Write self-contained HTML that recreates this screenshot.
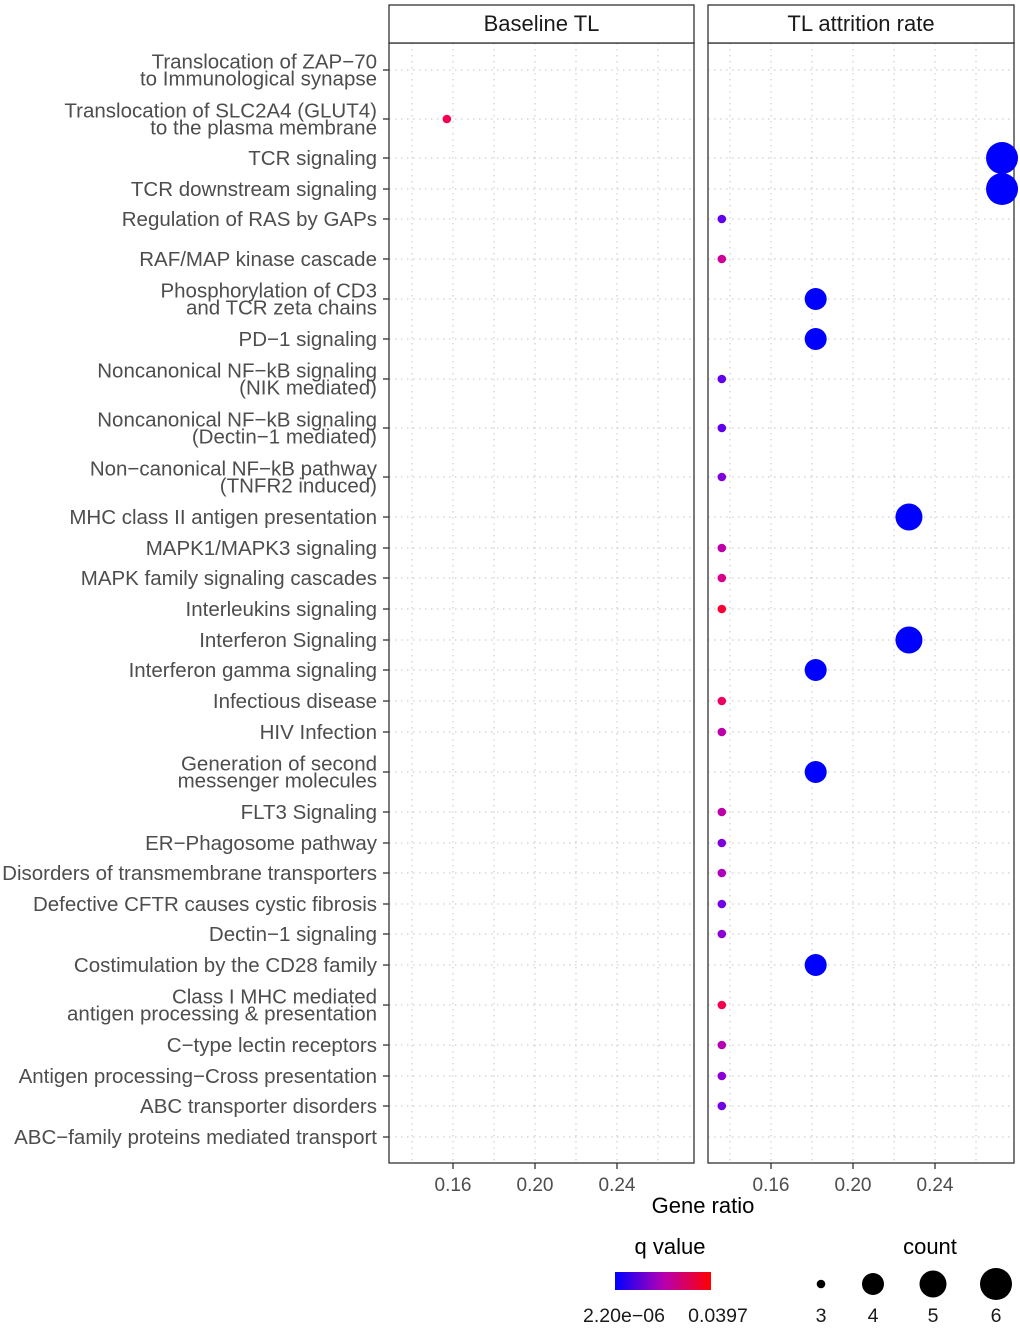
<!DOCTYPE html>
<html><head><meta charset="utf-8"><style>
body{margin:0;background:#fff;}
svg{display:block;font-family:"Liberation Sans",sans-serif;}
</style></head><body>
<svg id="chart" width="1020" height="1328"></svg>
<script>
const categories = ["Translocation of ZAP\u221270|to Immunological synapse","Translocation of SLC2A4 (GLUT4)|to the plasma membrane","TCR signaling","TCR downstream signaling","Regulation of RAS by GAPs","RAF/MAP kinase cascade","Phosphorylation of CD3|and TCR zeta chains","PD\u22121 signaling","Noncanonical NF\u2212kB signaling|(NIK mediated)","Noncanonical NF\u2212kB signaling|(Dectin\u22121 mediated)","Non\u2212canonical NF\u2212kB pathway|(TNFR2 induced)","MHC class II antigen presentation","MAPK1/MAPK3 signaling","MAPK family signaling cascades","Interleukins signaling","Interferon Signaling","Interferon gamma signaling","Infectious disease","HIV Infection","Generation of second|messenger molecules","FLT3 Signaling","ER\u2212Phagosome pathway","Disorders of transmembrane transporters","Defective CFTR causes cystic fibrosis","Dectin\u22121 signaling","Costimulation by the CD28 family","Class I MHC mediated|antigen processing & presentation","C\u2212type lectin receptors","Antigen processing\u2212Cross presentation","ABC transporter disorders","ABC\u2212family proteins mediated transport"];
// Baseline TL panel
const baseCats = [1];
const baseRatio = [0.157];
const baseCount = [3];
const baseQ = [0.036];
// TL attrition rate panel
const attrCats = [2,3,4,5,6,7,8,9,10,11,12,13,14,15,16,17,18,19,20,21,22,23,24,25,26,27,28,29];
const attrRatio = [0.2727,0.2727,0.136,0.136,0.1818,0.1818,0.136,0.136,0.136,0.2273,0.136,0.136,0.136,0.2273,0.1818,0.136,0.136,0.1818,0.136,0.136,0.136,0.136,0.136,0.1818,0.136,0.136,0.136,0.136];
const attrCount = [6,6,3,3,4,4,3,3,3,5,3,3,3,5,4,3,3,4,3,3,3,3,3,4,3,3,3,3];
const attrQ = [0,0,0.006,0.026,0,0,0.006,0.006,0.01,0,0.022,0.028,0.038,0,0,0.034,0.022,0,0.022,0.01,0.018,0.008,0.012,0,0.036,0.02,0.012,0.008];
const xTicks = [0.16,0.20,0.24];
const xMinor = [0.14,0.18,0.22,0.26];
const qMax = 0.0397;
const countLegend = [3,4,5,6];

// layout
const rowY = [70,119,158,189,219,259,299,339,379,428,477,517,548,578,609,640,670,701,732,772,812,843,873,904,934,965,1005,1045,1076,1106,1137];
const panels = [{x0:389,x1:694,off:64,title:"Baseline TL"},{x0:708,x1:1014,off:63,title:"TL attrition rate"}];
const pTop=43, pBot=1163;
const NS="http://www.w3.org/2000/svg";
const svg=document.getElementById('chart');
function el(t,a,p){const e=document.createElementNS(NS,t);for(const k in a)e.setAttribute(k,a[k]);(p||svg).appendChild(e);return e;}
function xScale(p,v){return p.x0+p.off+(v-0.16)*2050;}
function rScale(c){return {3:4.3,4:11,5:13.5,6:16}[c]||Math.sqrt(c)*6;}
function col(q){const t=Math.min(1,q/qMax);return `rgb(${Math.round(255*Math.sqrt(t))},0,${Math.round(255*Math.sqrt(1-t))})`;}

panels.forEach((p,pi)=>{
  const g=el('g',{});
  
  
  xMinor.concat(xTicks).forEach(v=>{const x=xScale(p,v);el('line',{x1:x,x2:x,y1:pTop,y2:pBot,stroke:'#cfcfcf','stroke-width':1.2,'stroke-dasharray':'1.5 4.5'},g);});
  rowY.forEach(y=>el('line',{x1:p.x0,x2:p.x1,y1:y,y2:y,stroke:'#cfcfcf','stroke-width':1.2,'stroke-dasharray':'1.5 4.5'},g));
  el('rect',{x:p.x0,y:pTop,width:p.x1-p.x0,height:pBot-pTop,fill:'none',stroke:'#333','stroke-width':1.3},g);
  const s=el('rect',{x:p.x0,y:5,width:p.x1-p.x0,height:38,fill:'#fff',stroke:'#333','stroke-width':1.3},g);
  
  
  const st=el('text',{x:(p.x0+p.x1)/2,y:31,'text-anchor':'middle','font-size':22,fill:'#1a1a1a'},g);st.textContent=p.title;
  
  
  xTicks.forEach(v=>{const x=xScale(p,v);el('line',{x1:x,x2:x,y1:pBot,y2:pBot+6,stroke:'#333','stroke-width':1.3},g);
    const t=el('text',{x:x,y:pBot+28,'text-anchor':'middle','font-size':19,fill:'#4d4d4d'},g);t.textContent=v.toFixed(2);
    
    });
});
categories.forEach((c,i)=>{
  const y=rowY[i];
  el('line',{x1:383,x2:389,y1:y,y2:y,stroke:'#333','stroke-width':1.3});
  const lines=c.split('|');
  const t=el('text',{x:377,'text-anchor':'end','font-size':20.5,fill:'#4d4d4d'});
  
  
  lines.forEach((l,j)=>{const ts=el('tspan',{x:377,y:y+7+(lines.length>1?(j===0?-8.5:8.5):0)},t);ts.textContent=l;});
});
function drawDots(p,cats,ratio,count,q){
  cats.forEach((ci,i)=>{
    const d=el('circle',{cx:xScale(p,ratio[i]),cy:rowY[ci],r:rScale(count[i]),fill:col(q[i])});
    
    
  });
}
drawDots(panels[0],baseCats,baseRatio,baseCount,baseQ);
drawDots(panels[1],attrCats,attrRatio,attrCount,attrQ);
const xt=el('text',{x:703,y:1213,'text-anchor':'middle','font-size':22,fill:'#000'});xt.textContent='Gene ratio';


const defs=el('defs',{});const lg=el('linearGradient',{id:'qg',x1:0,x2:1,y1:0,y2:0},defs);
el('stop',{offset:'0%','stop-color':'#0000ff'},lg);el('stop',{offset:'50%','stop-color':'#b400b4'},lg);el('stop',{offset:'100%','stop-color':'#ff0000'},lg);
const qt=el('text',{x:670,y:1254,'text-anchor':'middle','font-size':22,fill:'#000'});qt.textContent='q value';


const cb=el('rect',{x:615,y:1272,width:96,height:18,fill:'url(#qg)'});


[["2.20e\u221206",624],["0.0397",718]].forEach(([s,x])=>{const t=el('text',{x:x,y:1322,'text-anchor':'middle','font-size':19.5,fill:'#1a1a1a'});t.textContent=s;
  
  });
const ct=el('text',{x:930,y:1254,'text-anchor':'middle','font-size':22,fill:'#000'});ct.textContent='count';


const lx=[821,873,933,996];
countLegend.forEach((c,i)=>{
  const d=el('circle',{cx:lx[i],cy:1284,r:rScale(c),fill:'#000'});
  
  
  const t=el('text',{x:lx[i],y:1322,'text-anchor':'middle','font-size':19.5,fill:'#1a1a1a'});t.textContent=c;
  
  
});
</script>
</body></html>
